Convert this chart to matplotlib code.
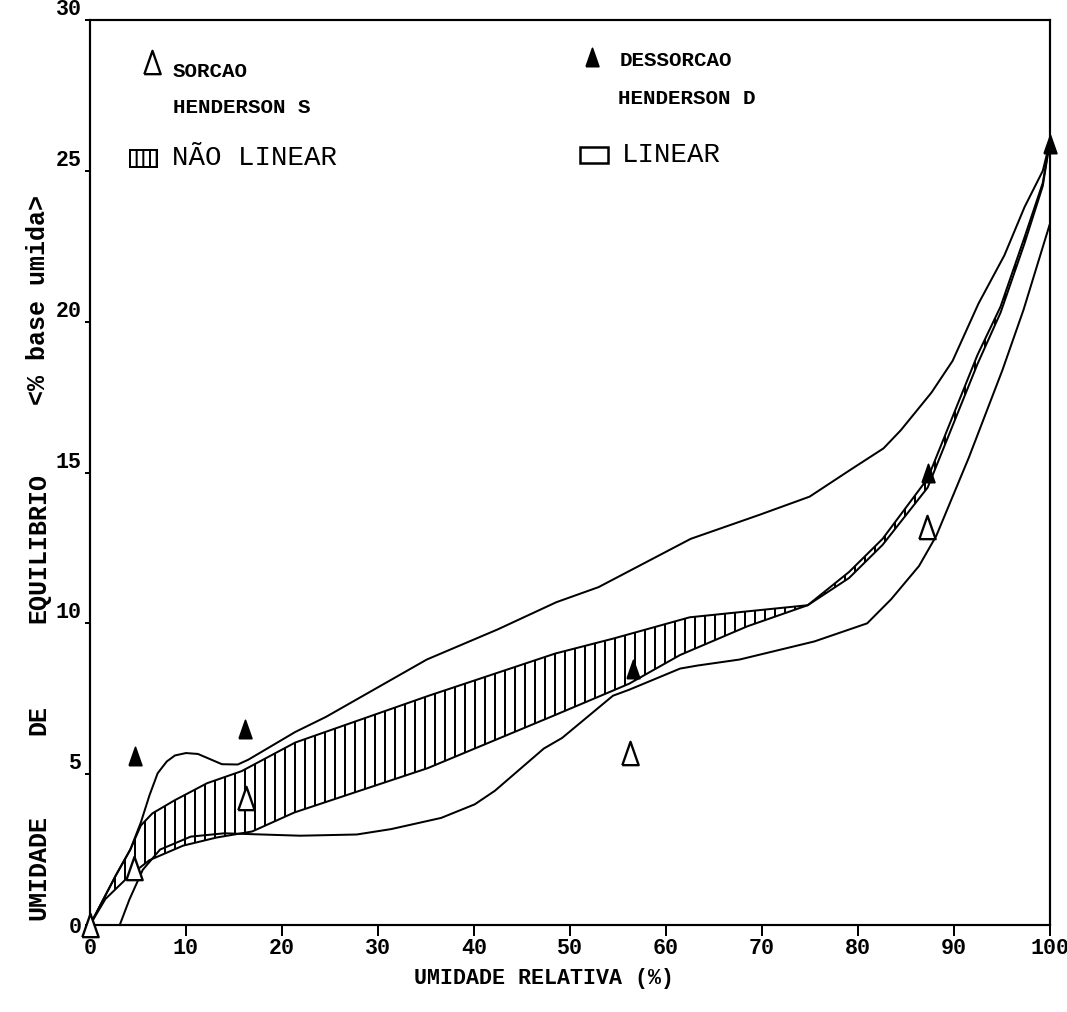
import matplotlib
matplotlib.use("Agg")
import matplotlib.pyplot as plt
from matplotlib.patches import Rectangle

plt.rcParams['hatch.linewidth'] = 1.2

# equilibrium moisture data, sorption (open) and desorption (filled)
ur_sor = [0, 4.6, 16.3, 56.3, 87.2]
eq_sor = [0, 1.9, 4.2, 5.7, 13.2]
ur_des = [4.7, 16.2, 56.6, 87.3, 100]
eq_des = [5.6, 6.5, 8.5, 15.0, 25.9]

# fitted curves, linear model (outer pair)
lin_des_x = [0, 2.7, 4.2, 5.3, 6.2, 7.05, 8.0, 8.85, 10.0, 11.25, 12.5, 13.75, 15.4,
             16.5, 21.4, 24.6, 35.1, 42.5, 48.6, 53.0, 62.6, 69.8, 75.0, 79.3,
             82.7, 84.5, 87.7, 89.9, 92.6, 95.3, 97.4, 99.3, 100]
lin_des_y = [0, 1.65, 2.5, 3.4, 4.3, 5.03, 5.42, 5.62, 5.7, 5.67, 5.5, 5.33, 5.32,
             5.48, 6.4, 6.9, 8.8, 9.8, 10.7, 11.2, 12.8, 13.6, 14.2, 15.1,
             15.8, 16.4, 17.65, 18.7, 20.6, 22.2, 23.8, 25.0, 25.9]
lin_sor_x = [3.1, 4.1, 5.5, 7.3, 10.5, 14.0, 21.9, 27.8, 31.4, 36.6, 40.1, 42.2,
             47.3, 49.2, 54.5, 56.2, 61.5, 63.3, 67.7, 75.5, 81.0, 83.5, 86.4, 88.2,
             91.6, 95.1, 97.3, 100]
lin_sor_y = [0, 0.84, 1.83, 2.5, 2.93, 3.04, 2.96, 3.0, 3.18, 3.55, 4.0, 4.45,
             5.85, 6.2, 7.6, 7.8, 8.5, 8.6, 8.8, 9.4, 10.0, 10.8, 11.9, 12.9,
             15.5, 18.4, 20.4, 23.2]

# fitted curves, non linear model (hatched band)
nl_des_x = [0, 2.7, 4.2, 5.3, 6.5, 8.8, 12.2, 15.8, 21.4, 35.3, 48.5, 54.6, 62.5,
            68.6, 74.8, 79.1, 82.6, 87.3, 92.5, 94.9, 97.4, 99.3, 100]
nl_des_y = [0, 1.65, 2.5, 3.3, 3.7, 4.13, 4.7, 5.1, 6.05, 7.6, 9.0, 9.5, 10.2,
            10.4, 10.6, 11.7, 12.8, 14.8, 18.9, 20.5, 22.8, 24.6, 25.9]
nl_sor_x = [0, 1.6, 4.1, 6.2, 9.7, 13.2, 16.9, 21.3, 35.2, 48.4, 54.5, 56.2, 61.5,
            68.5, 74.8, 79.1, 82.6, 87.3, 92.5, 94.9, 97.4, 99.3, 100]
nl_sor_y = [0, 0.86, 1.63, 2.15, 2.63, 2.9, 3.1, 3.73, 5.2, 6.95, 7.77, 8.0, 8.95,
            9.9, 10.6, 11.5, 12.6, 14.5, 18.6, 20.3, 22.6, 24.5, 25.9]

x_ticks = list(range(0, 101, 10))
y_ticks = list(range(0, 31, 5))

dot = ['Liberation Mono', 'DejaVu Sans Mono']
# tall narrow triangle, closed so the open marker gets all three sides
tri = [(-0.35, -0.5), (0.35, -0.5), (0, 0.5), (-0.35, -0.5)]

fig = plt.figure(figsize=(1067 / 120, 1012 / 120), dpi=120)
ax = fig.add_axes([90 / 1067, 1 - 925 / 1012, 959.5 / 1067, 905 / 1012])
ax.set_xlim(0, 100)
ax.set_ylim(0, 30)

# hatched band between the two non linear curves
ax.fill(nl_des_x + nl_sor_x[::-1], nl_des_y + nl_sor_y[::-1],
        facecolor='none', edgecolor='black', hatch='||', linewidth=0)

for xs, ys in [(lin_des_x, lin_des_y), (lin_sor_x, lin_sor_y),
               (nl_des_x, nl_des_y), (nl_sor_x, nl_sor_y)]:
    ax.plot(xs, ys, color='black', lw=1.2, clip_on=False, solid_joinstyle='round')

ax.plot(ur_sor, eq_sor, linestyle='none', marker=tri, ms=14,
        mfc='white', mec='black', mew=1.4, clip_on=False, zorder=5)
ax.plot(ur_des, eq_des, linestyle='none', marker=tri, ms=11,
        mfc='black', mec='black', clip_on=False, zorder=5)

for s in ax.spines.values():
    s.set_linewidth(1.3)

ax.set_xticks(x_ticks)
ax.set_yticks(y_ticks)
ax.set_xticklabels([str(v) for v in x_ticks], family=dot, weight='bold', fontsize=13)
ax.set_yticklabels([str(v) for v in y_ticks], family=dot, weight='bold', fontsize=13)
ax.tick_params(axis='x', direction='out', length=6.5, width=1.2, pad=1)
ax.tick_params(axis='y', direction='out', length=3, width=1.2, pad=2)
for lbl in ax.get_yticklabels()[1:]:
    lbl.set_va('bottom')

ax.text(0.473, -0.059, 'UMIDADE RELATIVA (%)', transform=ax.transAxes,
        ha='center', va='center', family=dot, weight='bold', fontsize=13)

# vertical axis title, word by word
ylab_words = ['UMIDADE', 'DE', 'EQUILIBRIO', '<% base umida>']
ylab_pos = [868, 720, 548, 300]
for w, py in zip(ylab_words, ylab_pos):
    ax.text(-0.054, (925 - py) / 905, w, transform=ax.transAxes, rotation=90,
            ha='center', va='center', family=dot, weight='bold', fontsize=15)

# legend block
ax.plot([0.0646], [0.9536], transform=ax.transAxes, marker=tri, ms=14,
        mfc='white', mec='black', mew=1.4, linestyle='none')
ax.text(0.0865, 0.9436, 'SORCAO', transform=ax.transAxes, va='center',
        family=dot, weight='bold', fontsize=12.5)
ax.text(0.0865, 0.9028, 'HENDERSON S', transform=ax.transAxes, va='center',
        family=dot, weight='bold', fontsize=12.5)
ax.add_patch(Rectangle((0.0417, 0.8376), 0.0281, 0.0188, transform=ax.transAxes,
                       facecolor='none', edgecolor='black', hatch='|||', lw=1.2))
ax.text(0.0855, 0.8475, 'NÃO LINEAR', transform=ax.transAxes, va='center',
        family=dot, fontsize=16.5)

ax.plot([0.523], [0.959], transform=ax.transAxes, marker=tri, ms=11,
        mfc='black', mec='black', linestyle='none')
ax.text(0.5524, 0.9558, 'DESSORCAO', transform=ax.transAxes, va='center',
        family=dot, weight='bold', fontsize=12.5)
ax.text(0.5503, 0.9138, 'HENDERSON D', transform=ax.transAxes, va='center',
        family=dot, weight='bold', fontsize=12.5)
ax.add_patch(Rectangle((0.5107, 0.842), 0.0292, 0.0177, transform=ax.transAxes,
                       facecolor='none', edgecolor='black', lw=1.5))
ax.text(0.5545, 0.8508, 'LINEAR', transform=ax.transAxes, va='center',
        family=dot, fontsize=16.5)

fig.savefig('out.png', dpi=120, facecolor='white')
